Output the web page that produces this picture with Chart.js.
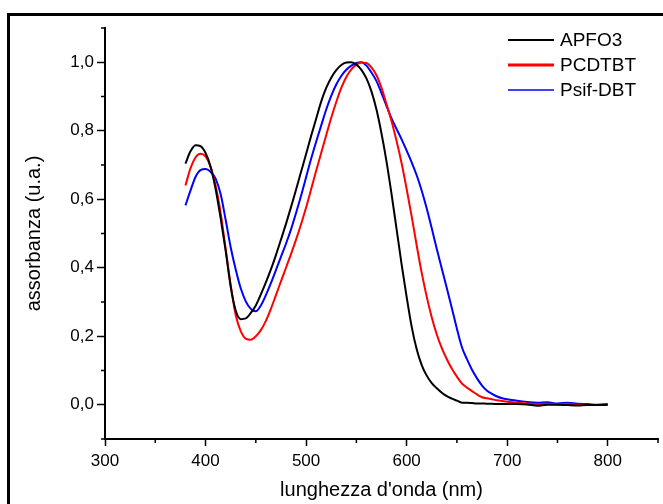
<!DOCTYPE html>
<html>
<head>
<meta charset="utf-8">
<script src="https://cdn.jsdelivr.net/npm/chart.js@4.4.1/dist/chart.umd.min.js"></script>
<style>
  html, body { margin: 0; padding: 0; background: #fff; }
  body { width: 663px; height: 504px; overflow: hidden; position: relative; }
  #frame { position: absolute; left: 7px; top: 13px; width: 720px; height: 600px; border: 3px solid #000; box-sizing: border-box; }
  #wrap { position: absolute; left: 0; top: 0; width: 663px; height: 504px; }
</style>
</head>
<body>
<div id="frame"></div>
<div id="wrap"><canvas id="absChart" width="663" height="504"></canvas></div>
<script>
// wavelengths (nm)
const wavelengths = [
  380, 385, 390, 395, 400, 405, 410, 415, 420, 425,
  430, 435, 440, 445, 450, 455, 460, 465, 470, 475,
  480, 485, 490, 495, 500, 505, 510, 515, 520, 525,
  530, 535, 540, 545, 550, 555, 560, 565, 570, 575,
  580, 585, 590, 595, 600, 605, 610, 615, 620, 625,
  630, 635, 640, 645, 650, 655, 660, 665, 670, 675,
  680, 685, 690, 695, 700, 710, 720, 730, 740, 750,
  760, 770, 780, 790, 800
];

const apfo3 = [
  0.704, 0.740, 0.758, 0.755, 0.735, 0.695, 0.630, 0.545, 0.450, 0.345,
  0.275, 0.250, 0.252, 0.268, 0.290, 0.322, 0.357, 0.395, 0.437, 0.482,
  0.528, 0.577, 0.628, 0.680, 0.732, 0.785, 0.835, 0.885, 0.925, 0.955,
  0.977, 0.992, 0.999, 1.000, 0.993, 0.978, 0.953, 0.915, 0.862, 0.792,
  0.710, 0.615, 0.513, 0.410, 0.315, 0.228, 0.162, 0.116, 0.085, 0.063,
  0.048, 0.035, 0.025, 0.018, 0.012, 0.006, 0.006, 0.005, 0.004, 0.004,
  0.003, 0.003, 0.002, 0.002, 0.002, 0.002, 0.001, -0.003, 0.000, 0.000,
  -0.001, -0.002, -0.001, -0.001, 0.000
];

const pcdtbt = [
  0.640, 0.690, 0.722, 0.733, 0.725, 0.695, 0.640, 0.560, 0.455, 0.350,
  0.262, 0.215, 0.193, 0.190, 0.200, 0.218, 0.245, 0.280, 0.320, 0.360,
  0.400, 0.440, 0.482, 0.527, 0.576, 0.629, 0.683, 0.735, 0.787, 0.838,
  0.884, 0.925, 0.957, 0.979, 0.993, 0.999, 0.998, 0.985, 0.962, 0.925,
  0.877, 0.828, 0.770, 0.705, 0.630, 0.550, 0.465, 0.385, 0.315, 0.255,
  0.205, 0.165, 0.133, 0.105, 0.082, 0.062, 0.050, 0.040, 0.030, 0.022,
  0.019, 0.016, 0.013, 0.011, 0.009, 0.006, 0.004, 0.002, 0.003, 0.001,
  0.003, 0.000, 0.000, -0.001, 0.000
];

const psifDbt = [
  0.582, 0.625, 0.665, 0.685, 0.688, 0.680, 0.660, 0.615, 0.540, 0.460,
  0.395, 0.340, 0.302, 0.280, 0.273, 0.290, 0.320, 0.355, 0.393, 0.432,
  0.470, 0.512, 0.560, 0.610, 0.664, 0.718, 0.768, 0.815, 0.862, 0.902,
  0.935, 0.960, 0.978, 0.990, 0.998, 1.000, 0.990, 0.970, 0.945, 0.910,
  0.872, 0.836, 0.805, 0.775, 0.742, 0.708, 0.670, 0.625, 0.573, 0.515,
  0.455, 0.397, 0.340, 0.282, 0.222, 0.168, 0.133, 0.102, 0.077, 0.056,
  0.041, 0.032, 0.024, 0.019, 0.016, 0.012, 0.008, 0.006, 0.007, 0.004,
  0.006, 0.003, 0.002, 0.000, 0.002
];

const seriesNames = ['APFO3', 'PCDTBT', 'Psif-DBT'];
const seriesColors = ['#000000', '#ff0000', '#0000ff'];
const legendWidths = [2, 3, 1.5];

Chart.defaults.font.family = "'Liberation Sans', Arial, sans-serif";
Chart.defaults.color = '#000';

function toPoints(values) {
  return wavelengths.map((w, i) => ({ x: w, y: values[i] }));
}

// short minor ticks + legend drawn inside the plot
const extras = {
  id: 'extras',
  afterDraw(chart) {
    const ctx = chart.ctx;
    const xs = chart.scales.x;
    const ys = chart.scales.y;
    ctx.save();
    ctx.strokeStyle = '#000';
    ctx.lineWidth = 1.5;
    ctx.beginPath();
    xs.ticks.forEach(t => {
      if (t.value % 100 !== 0) {
        const px = xs.getPixelForValue(t.value);
        ctx.moveTo(px, xs.top);
        ctx.lineTo(px, xs.top + 4);
      }
    });
    ys.ticks.forEach(t => {
      if (Math.round(t.value * 10) % 2 !== 0) {
        const py = ys.getPixelForValue(t.value);
        ctx.moveTo(ys.right, py);
        ctx.lineTo(ys.right - 4, py);
      }
    });
    ctx.stroke();

    // legend
    const lx = 508, ly = 40, gap = 25;
    ctx.font = "19px 'Liberation Sans', Arial, sans-serif";
    ctx.textBaseline = 'middle';
    ctx.textAlign = 'left';
    seriesNames.forEach((name, i) => {
      const y = ly + i * gap;
      ctx.beginPath();
      ctx.strokeStyle = seriesColors[i];
      ctx.lineWidth = legendWidths[i];
      ctx.moveTo(lx, y);
      ctx.lineTo(lx + 46, y);
      ctx.stroke();
      ctx.fillStyle = '#000';
      ctx.fillText(name, lx + 52, y + 1);
    });
    ctx.restore();
  }
};

const datasets = [apfo3, pcdtbt, psifDbt].map((vals, i) => ({
  label: seriesNames[i],
  data: toPoints(vals),
  borderColor: seriesColors[i],
  borderWidth: 2,
  pointRadius: 0,
  fill: false,
  cubicInterpolationMode: 'monotone'
}));

const ctx = document.getElementById('absChart').getContext('2d');
new Chart(ctx, {
  type: 'line',
  data: { datasets: datasets },
  options: {
    responsive: false,
    animation: false,
    layout: { padding: { top: 28, right: 4, left: 0, bottom: 0 } },
    plugins: {
      legend: { display: false },
      tooltip: { enabled: false }
    },
    scales: {
      x: {
        type: 'linear',
        min: 300,
        max: 850,
        afterFit: s => { s.height = 65; },
        grid: {
          drawOnChartArea: false,
          tickLength: 7,
          tickWidth: 1.5,
          tickColor: c => (c.tick && c.tick.value % 100 === 0) ? '#000' : 'rgba(0,0,0,0)'
        },
        border: { display: true, color: '#000', width: 2 },
        ticks: {
          stepSize: 50,
          autoSkip: false,
          maxRotation: 0,
          padding: 5,
          font: { size: 17 },
          callback: v => v % 100 === 0 ? String(v) : ''
        },
        title: {
          display: true,
          text: "lunghezza d'onda (nm)",
          font: { size: 20 },
          padding: { top: 0, bottom: 2 }
        }
      },
      y: {
        min: -0.1,
        max: 1.1,
        afterFit: s => { s.width = 105; },
        grid: {
          drawOnChartArea: false,
          tickLength: 8,
          tickWidth: 1.5,
          tickColor: c => (c.tick && Math.round(c.tick.value * 10) % 2 === 0) ? '#000' : 'rgba(0,0,0,0)'
        },
        border: { display: true, color: '#000', width: 2 },
        ticks: {
          stepSize: 0.1,
          autoSkip: false,
          padding: 3,
          font: { size: 17 },
          callback: v => Math.round(v * 10) % 2 === 0 ? v.toFixed(1).replace('.', ',') : ''
        },
        title: {
          display: true,
          text: 'assorbanza (u.a.)',
          font: { size: 20 },
          padding: { top: 22, bottom: 0 }
        }
      }
    }
  },
  plugins: [extras]
});
</script>
</body>
</html>
